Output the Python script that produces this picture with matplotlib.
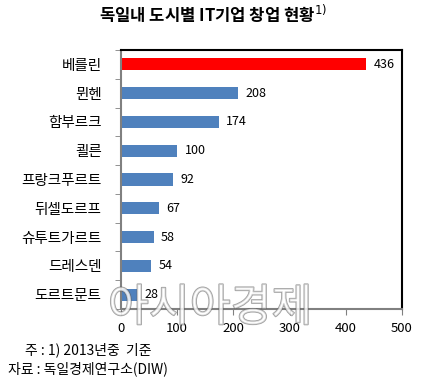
import matplotlib.pyplot as plt
import matplotlib.patheffects as pe

plt.rcParams['font.family'] = ['Noto Sans CJK KR', 'DejaVu Sans']

cities = ['베를린', '뮌헨', '함부르크', '쾰른', '프랑크푸르트', '뒤셀도르프', '슈투트가르트', '드레스덴', '도르트문트']
counts = [436, 208, 174, 100, 92, 67, 58, 54, 28]
colors = ['#FF0000'] + ['#4F81BD'] * 8

fig = plt.figure(figsize=(4.27, 3.9), dpi=100)
ax = fig.add_axes([121 / 427, 1 - 309 / 390, 281 / 427, 259 / 390])

y = list(range(len(cities)))
ax.barh(y, counts, height=0.42, color=colors)
for yi, v in zip(y, counts):
    ax.text(v + 13, yi, str(v), va='center', ha='left', fontsize=9)

ax.set_ylim(len(cities) - 0.5, -0.5)
ax.set_yticks(y)
ax.set_yticklabels(cities, fontsize=10.5)
ax.tick_params(axis='y', length=0, pad=14)
ax.set_yticks([i - 0.5 for i in range(len(cities) + 1)], minor=True)
ax.tick_params(axis='y', which='minor', length=4, color='#808080')

ax.set_xlim(0, 500)
ax.set_xticks([0, 100, 200, 300, 400, 500])
ax.tick_params(axis='x', length=4, color='#808080', labelsize=9.5, pad=5)

for s in ['left', 'bottom']:
    ax.spines[s].set_color('#808080')
    ax.spines[s].set_linewidth(1.5)
for s in ['top', 'right']:
    ax.spines[s].set_color('black')
    ax.spines[s].set_linewidth(1.5)

fig.text(0.5, 1 - 15 / 390, '독일내 도시별 IT기업 창업 현황$^{1)}$', ha='center', va='center',
         fontsize=12, fontweight='bold')

fig.text(25 / 427, 1 - 350 / 390, '주 : 1) 2013년중  기준', ha='left', va='center', fontsize=10)
fig.text(8 / 427, 1 - 369 / 390, '자료 : 독일경제연구소(DIW)', ha='left', va='center', fontsize=10)

wm = fig.text(108 / 427, 1 - 308 / 390, '아시아경제', ha='left', va='center', fontsize=32,
              color='white', alpha=0.6)
wm.set_path_effects([pe.Stroke(linewidth=1.2, foreground='#606060'), pe.Normal()])

fig.savefig('out.png', dpi=100)
